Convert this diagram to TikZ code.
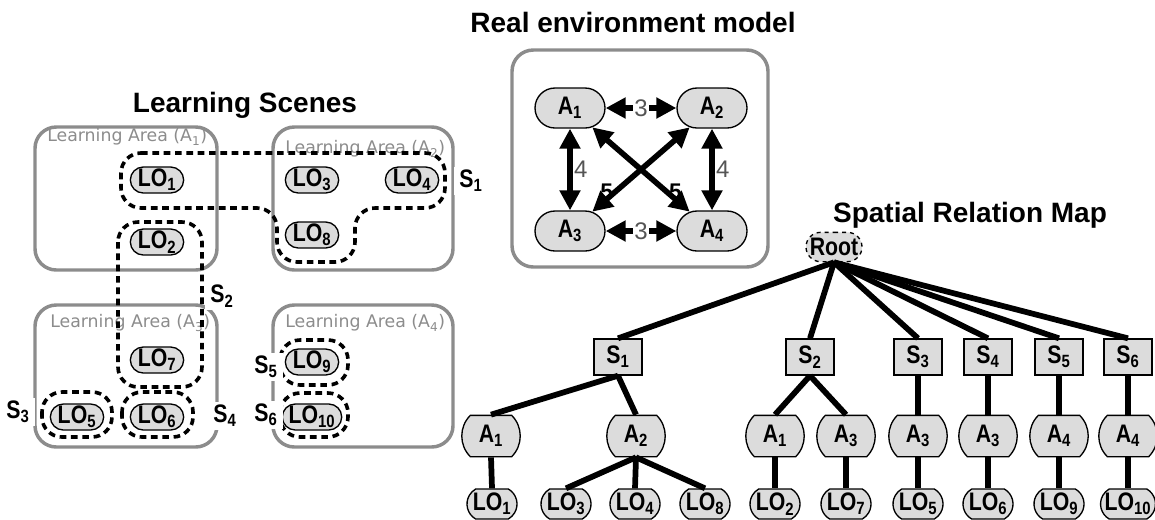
\documentclass[tikz,border=0pt]{standalone}
\usepackage{fontspec}
\setmainfont{Liberation Sans}
\newfontfamily\narrowfont[FakeStretch=0.84]{Liberation Sans}
\newfontfamily\areafont{DejaVu Sans}
\usetikzlibrary{arrows.meta,shapes.misc}
\definecolor{areagray}{HTML}{8C8C8C}
\definecolor{nodefill}{HTML}{DCDCDC}
\definecolor{weightgray}{HTML}{555555}
\tikzset{
  title/.style={font=\bfseries\fontsize{21}{24}\selectfont, anchor=base},
  areabox/.style={draw=areagray, line width=2.6pt, rounded corners=16pt},
  arealab/.style={text=areagray, font=\areafont\fontsize{13}{15}\selectfont, anchor=west, inner sep=0pt},
  scene/.style={draw=black, line width=2.7pt, dash pattern=on 5pt off 3.5pt, rounded corners=15pt},
  slab/.style={font=\narrowfont\bfseries\fontsize{19}{21}\selectfont, fill=white, inner sep=0pt, minimum width=26pt, minimum height=21pt},
  lonode/.style={rounded rectangle, draw, fill=nodefill, line width=1pt, minimum width=40pt, minimum height=19.5pt, inner sep=0pt, font=\narrowfont\bfseries\fontsize{19}{21}\selectfont},
  envnode/.style={lonode, minimum width=52.5pt, minimum height=30pt, font=\narrowfont\bfseries\fontsize{19}{21}\selectfont},
  envarrow/.style={line width=4.2pt, {Triangle[length=15pt,width=15pt]}-{Triangle[length=15pt,width=15pt]}},
  wt/.style={text=weightgray, font=\fontsize{18}{20}\selectfont, inner sep=1pt},
  bigwt/.style={font=\bfseries\fontsize{17}{19}\selectfont, inner sep=1pt},
  rootnode/.style={lonode, dashed, minimum width=42pt, minimum height=22pt},
  snode/.style={rectangle, draw, fill=nodefill, line width=1pt, minimum width=36pt, minimum height=27pt, inner sep=0pt, font=\narrowfont\bfseries\fontsize{19}{21}\selectfont},
  anode/.style={lonode, rounded rectangle arc length=90, minimum width=32pt, minimum height=31pt},
  leaf/.style={lonode, rounded rectangle arc length=120, minimum width=37.5pt, minimum height=22.5pt, inner xsep=0pt},
  tedge/.style={line width=4.3pt},
}
\newcommand{\lo}[1]{LO\textsubscript{#1}}
\newcommand{\ar}[1]{A\textsubscript{#1}}

\begin{document}
\begin{tikzpicture}[x=0.75pt, y=-0.75pt]
  \useasboundingbox (0,0) rectangle (1155,519);

  % learning scenes
  \node[title] (lstitle) at (245,112) {Learning Scenes};
  \draw[areabox] (35,127) rectangle (217,270);
  \draw[areabox] (273,127) rectangle (453,270);
  \draw[areabox] (35,305) rectangle (217,447);
  \draw[areabox] (273,305) rectangle (453,447);
  \node[arealab] (la1) at (47,137) {Learning Area (\ar{1})};
  \node[arealab] (la2) at (285,149) {Learning Area (\ar{2})};
  \node[arealab] (la3) at (50,323) {Learning Area (\ar{3})};
  \node[arealab] (la4) at (285,323) {Learning Area (\ar{4})};

  \node[lonode] (lo1) at (157,180) {\lo{1}};
  \node[lonode] (lo3) at (312,180) {\lo{3}};
  \node[lonode] (lo4) at (412,180) {\lo{4}};
  \node[lonode] (lo8) at (312,235) {\lo{8}};
  \node[lonode] (lo2) at (157,242) {\lo{2}};
  \node[lonode] (lo7) at (157,360) {\lo{7}};
  \node[lonode] (lo5) at (77,417) {\lo{5}};
  \node[lonode] (lo6) at (157,417) {\lo{6}};
  \node[lonode] (lo9) at (312,362) {\lo{9}};
  \node[lonode] (lo10) at (312,417) {\lo{10}};

  \draw[scene] (121,153) -- (445,153) -- (445,208) -- (355,208) -- (355,262)
    -- (277,262) -- (277,208) -- (121,208) -- cycle;
  \draw[scene] (118,222) rectangle (202,387);
  \draw[scene] (42,392) rectangle (112,437);
  \draw[scene] (122,392) rectangle (193,437);
  \draw[scene] (280,340) rectangle (348,385);
  \draw[scene] (280,393) rectangle (348,437);

  \node[slab] (sl1) at (471,181) {S\textsubscript{1}};
  \node[slab] (sl2) at (222,296) {S\textsubscript{2}};
  \node[slab] (sl3) at (18,412) {S\textsubscript{3}};
  \node[slab] (sl4) at (225,416) {S\textsubscript{4}};
  \node[slab] (sl5) at (266,367) {S\textsubscript{5}};
  \node[slab] (sl6) at (266,415) {S\textsubscript{6}};

  % real environment model
  \node[title] (retitle) at (633,32) {Real environment model};
  \draw[areabox] (512,50) rectangle (768,267);
  \node[envnode] (e1) at (570,108) {\ar{1}};
  \node[envnode] (e2) at (712,108) {\ar{2}};
  \node[envnode] (e3) at (570,231) {\ar{3}};
  \node[envnode] (e4) at (712,231) {\ar{4}};
  \draw[envarrow] (e1) -- node[wt, fill=white] {3} (e2);
  \draw[envarrow] (e3) -- node[wt, fill=white] {3} (e4);
  \draw[envarrow] (e1) -- node[wt, right] {4} (e3);
  \draw[envarrow] (e2) -- node[wt, right] {4} (e4);
  \draw[envarrow] (e1) -- node[bigwt, pos=0.76, right=-1pt] {5} (e4);
  \draw[envarrow] (e2) -- node[bigwt, pos=0.76, left=-1pt] {5} (e3);

  % spatial relation map
  \node[title] (srtitle) at (970,222) {Spatial Relation Map};
  \node[rootnode] (root) at (834,247) {Root};
  \foreach \i/\x in {1/618,2/810,3/918,4/988,5/1059,6/1128}{
    \node[snode] (s\i) at (\x,357) {S\textsubscript{\i}};
    \draw[tedge] (root.south) -- (s\i.north);
  }
  \node[anode] (a11) at (491,436) {\ar{1}};
  \node[anode] (a12) at (636,436) {\ar{2}};
  \node[anode] (a21) at (775,436) {\ar{1}};
  \node[anode] (a23) at (846,436) {\ar{3}};
  \node[anode] (a33) at (918,436) {\ar{3}};
  \node[anode] (a43) at (988,436) {\ar{3}};
  \node[anode] (a54) at (1059,436) {\ar{4}};
  \node[anode] (a64) at (1128,436) {\ar{4}};
  \foreach \s/\a in {s1/a11,s1/a12,s2/a21,s2/a23,s3/a33,s4/a43,s5/a54,s6/a64}
    \draw[tedge] (\s.south) -- (\a.north);

  \node[leaf] (t1) at (492,504) {\lo{1}};
  \node[leaf] (t3) at (566,504) {\lo{3}};
  \node[leaf] (t4) at (635,504) {\lo{4}};
  \node[leaf] (t8) at (705,504) {\lo{8}};
  \node[leaf] (t2) at (775,504) {\lo{2}};
  \node[leaf] (t7) at (846,504) {\lo{7}};
  \node[leaf] (t5) at (918,504) {\lo{5}};
  \node[leaf] (t6) at (988,504) {\lo{6}};
  \node[leaf] (t9) at (1059,504) {\lo{9}};
  \node[leaf] (t10) at (1128,504) {\lo{10}};
  \foreach \a/\t in {a11/t1,a12/t3,a12/t4,a12/t8,a21/t2,a23/t7,a33/t5,a43/t6,a54/t9,a64/t10}
    \draw[tedge] (\a.south) -- (\t.north);
\end{tikzpicture}
\end{document}
